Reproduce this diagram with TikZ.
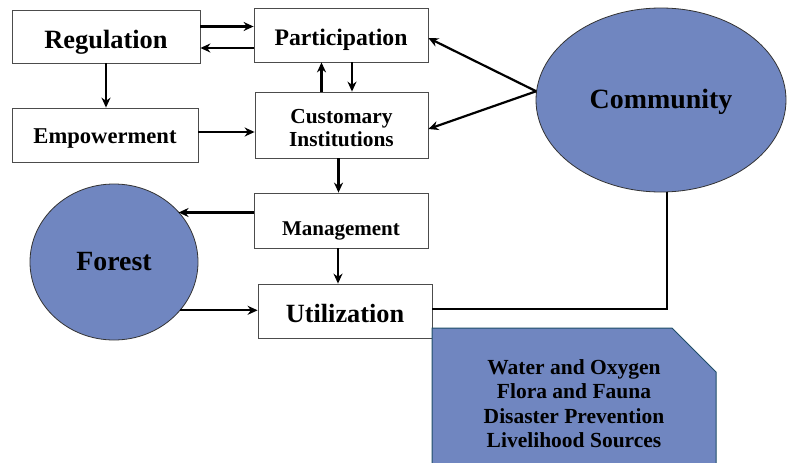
\documentclass[tikz,border=0pt]{standalone}
\usepackage{fontspec}
\setmainfont{Liberation Serif}
\usepackage{tikz}
\usetikzlibrary{arrows.meta}
\usetikzlibrary{positioning,shapes.misc,shapes.geometric}
\definecolor{blobblue}{RGB}{112,134,192}
\definecolor{edgeteal}{RGB}{31,78,105}
\tikzset{
    box/.style={
        draw=black!70,
        line width=0.8pt,
        fill=white,
        rectangle,
        inner sep=1pt,
        align=center,
        font=\bfseries
    },
    blob/.style={
        draw=black!80,
        line width=0.8pt,
        ellipse,
        fill=blobblue,
        inner sep=0pt,
        font=\bfseries
    },
    link/.style={
        draw,
        -{Stealth[length=10pt, width=9pt]},
        line width=2.2pt
    }
}
\newcommand{\fsz}[1]{\fontsize{#1}{#1}\selectfont}

\begin{document}
\begin{tikzpicture}[x=1pt, y=-1pt]
  \clip (0,0) rectangle (787,463);
  % Boxes
  \node[box, minimum width=188pt, minimum height=53pt, text height=29pt, font=\bfseries\fsz{26.4}] (reg) at (106,36.5) {Regulation};
  \node[box, minimum width=174pt, minimum height=54pt, text height=26.4pt, font=\bfseries\fsz{23.7}] (part) at (341,35) {Participation};
  \node[box, minimum width=186pt, minimum height=54pt, text height=21.6pt, font=\bfseries\fsz{22.6}] (emp) at (105,135) {Empowerment};
  \node[box, minimum width=173pt, minimum height=66pt, text height=44pt, font=\bfseries\fontsize{21.4}{23.5}\selectfont] (inst) at (341.5,125) {Customary\\Institutions};
  \node[box, minimum width=174pt, minimum height=55pt, text height=34.5pt, font=\bfseries\fsz{21}] (mgmt) at (341,220.5) {Management};
  \node[box, minimum width=174pt, minimum height=54pt, text height=23pt, font=\bfseries\fsz{26.3}] (util) at (345,311) {Utilization};

  % Ellipses
  \node[blob, minimum width=168pt, minimum height=156pt, font=\bfseries\fsz{27.8}] (forest) at (114,262) {Forest};
  \node[blob, minimum width=250pt, minimum height=184pt, text height=23.3pt, font=\bfseries\fsz{27.9}] (cmty) at (661,100) {Community};

  % Benefits
  \node[draw=edgeteal, line width=1pt, fill=blobblue, chamfered rectangle,
        chamfered rectangle corners=north east, chamfered rectangle xsep=22pt,
        chamfered rectangle ysep=22pt, minimum width=284pt, minimum height=151pt,
        inner sep=0pt, align=center, font=\bfseries\fontsize{21.5}{24.5}\selectfont]
        (bnft) at (574,403.5) {Water and Oxygen\\Flora and Fauna\\Disaster Prevention\\Livelihood Sources};

  % Connectors
  \draw[link] ([yshift=10]reg.east) -- ([yshift=10]reg.east -| part.west);
  \draw[link] ([yshift=-13]part.west) -- ([yshift=-13]part.west -| reg.east);
  \draw[link] (reg.south) -- (reg.south |- emp.north);
  \draw[link] ([xshift=-20]inst.north) -- ([xshift=-20]inst.north |- part.south);
  \draw[link] ([xshift=11]part.south) -- ([xshift=11]part.south |- inst.north);
  \draw[link] ([yshift=3]emp.east) -- ([yshift=3]emp.east -| inst.west);
  \draw[link] ([xshift=-3]inst.south) -- ([xshift=-3]inst.south |- mgmt.north);
  \draw[link] ([yshift=8]mgmt.west) -- ([yshift=8]mgmt.west -| forest.38);
  \draw[link] (forest.-36) -- (forest.-36 -| util.west);
  \draw[link] ([xshift=-3]mgmt.south) -- ([xshift=-3]mgmt.south |- util.north);
  \draw[link] (cmty.176) -- ([yshift=-3]part.east);
  \draw[link] (cmty.176) -- ([yshift=-4]inst.east);
  \draw[line width=2.2pt] ([xshift=6]cmty.south) |- ([yshift=2]util.east);
\end{tikzpicture}
\end{document}
